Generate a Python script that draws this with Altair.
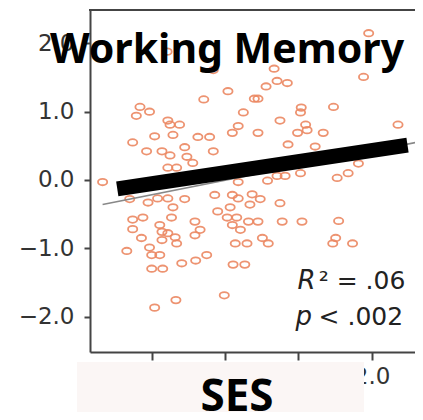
import altair as alt
import pandas as pd

# ---- data ----
ses = [1.96, -0.79, -0.16, 0.67, 1.89, 0.71, 0.85, 0.56, 0.04, -0.29,
       0.40, 0.45, -1.16, -1.21, -1.03, 1.04, 1.03, 1.48, 0.25, -0.78,
       -0.75, -0.62, 0.75, 1.10, 2.36, 0.18,
       0.10, 0.45, 0.99, 1.34, 1.12, -0.96, -0.71, -0.37, -0.21, -1.26,
       -1.07, -0.86, -0.75, -0.55, -0.52, -0.16, 0.86, 1.23, -0.44, -0.78,
       -0.66, 1.82, 1.68, 1.53, 1.03, 0.71, 0.82,
       0.58, 0.18, -1.67, 2.67,
       -1.30, -1.05, -0.92, -0.78, -0.55, -0.14, 0.10, 0.18, 0.37, 0.48,
       0.34, 0.75, -0.71, -0.10, 0.07, -0.73, -1.26, -1.12, -0.41, 0.03,
       0.16, 0.32, 0.45, 0.78, 1.05, 1.55, -0.89, -1.26, -0.34, 0.10,
       0.21, -0.86, -0.78, -0.41, -0.68, -1.14, -0.86, 0.51, 1.51, -0.66,
       0.14, 0.30, 0.59, 1.47, 1.74, -1.03, -1.34, -1.00, -0.89, -0.25,
       -0.40, -0.59, 0.11, 0.27, -1.00, -0.85, -0.67, -0.96, -0.01]
wm = [2.15, 1.88, 1.61, 1.63, 1.51, 1.45, 1.42, 1.37, 1.30, 1.18,
      1.19, 1.19, 1.07, 0.94, 1.00, 1.06, 0.99, 1.07, 0.99, 0.87,
      0.81, 0.81, 0.87, 0.81, 0.81, 0.79,
      0.69, 0.69, 0.69, 0.69, 0.73, 0.64, 0.66, 0.63, 0.63, 0.55,
      0.42, 0.42, 0.36, 0.48, 0.34, 0.42, 0.52, 0.49, 0.25, 0.18,
      0.18, 0.24, 0.10, 0.03, 0.10, 0.06, 0.06,
      -0.01, -0.03, -0.03, -0.22,
      -0.28, -0.33, -0.27, -0.27, -0.28, -0.22, -0.22, -0.27, -0.21, -0.28,
      -0.36, -0.34, -0.40, -0.46, -0.40, -0.55, -0.58, -0.55, -0.61, -0.55,
      -0.55, -0.61, -0.61, -0.61, -0.61, -0.60, -0.66, -0.72, -0.73, -0.66,
      -0.73, -0.76, -0.78, -0.81, -0.84, -0.85, -0.88, -0.85, -0.85, -0.93,
      -0.93, -0.93, -0.93, -0.93, -0.93, -0.99, -1.04, -1.10, -1.10, -1.10,
      -1.18, -1.22, -1.24, -1.24, -1.30, -1.30, -1.76, -1.87, -1.69]

fit_ses = [-1.67, 2.75]
fit_wm = [-0.36, 0.58]
bold_ses = [-1.47, 2.49]
bold_wm = [-0.13, 0.51]

x_ticks = [-1.0, 0.0, 1.0, 2.0]
y_ticks = [-2.0, -1.0, 0.0, 1.0, 2.0]

title_text = "Working Memory"
xlabel_text = "SES"

ital_text = ["R", "p"]
ital_x = [0.99, 0.96]
rest_text = ["\u00b2 = .06", "< .002"]
rest_x = [2.46, 2.43]
ann_y = [-1.60, -2.12]

# ---- tables ----
pts = pd.DataFrame({"SES": ses, "WM": wm})
fit = pd.DataFrame({"SES": fit_ses, "WM": fit_wm})
bold = pd.DataFrame({"SES": bold_ses, "WM": bold_wm})
ital = pd.DataFrame({"SES": ital_x, "WM": ann_y, "t": ital_text})
rest = pd.DataFrame({"SES": rest_x, "WM": ann_y, "t": rest_text})

W, H = 325, 342
xs = alt.Scale(domain=[-1.842, 2.592], nice=False, zero=False)
ys = alt.Scale(domain=[-2.52, 2.49], nice=False, zero=False)

x_enc = alt.X("SES:Q", scale=xs, axis=alt.Axis(
    values=x_ticks, format=".1f", title=None, grid=False,
    labelFont="DejaVu Sans", labelFontSize=23, labelColor="#333",
    labelPadding=5, tickSize=8, tickWidth=2, tickColor="#444",
    domainColor="#444", domainWidth=2, zindex=0))
y_enc = alt.Y("WM:Q", scale=ys, axis=alt.Axis(
    values=y_ticks, format=".1f", title=None, grid=False,
    labelFont="DejaVu Sans", labelFontSize=23, labelColor="#333",
    labelPadding=10, tickSize=6, tickWidth=2, tickColor="#444",
    domainColor="#444", domainWidth=2, zindex=0))

ellipse = "M -1 0 A 1 0.7 0 1 0 1 0 A 1 0.7 0 1 0 -1 0 Z"

points = alt.Chart(pts).mark_point(
    shape=ellipse, filled=False, size=85, strokeWidth=1.8,
    color="#ec8862", opacity=0.9
).encode(x=x_enc, y=y_enc)

fitline = alt.Chart(fit).mark_line(color="#888", strokeWidth=1.6).encode(
    x=alt.X("SES:Q", scale=xs), y=alt.Y("WM:Q", scale=ys))

boldline = alt.Chart(bold).mark_line(color="#000", strokeWidth=15, strokeCap="butt").encode(
    x=alt.X("SES:Q", scale=xs), y=alt.Y("WM:Q", scale=ys))

ital_layer = alt.Chart(ital).mark_text(
    font="DejaVu Sans", fontStyle="italic", fontSize=26, align="left",
    baseline="alphabetic", color="#222"
).encode(x=alt.X("SES:Q", scale=xs), y=alt.Y("WM:Q", scale=ys), text="t:N")

rest_layer = alt.Chart(rest).mark_text(
    font="DejaVu Sans", fontSize=25, align="right",
    baseline="alphabetic", color="#222"
).encode(x=alt.X("SES:Q", scale=xs), y=alt.Y("WM:Q", scale=ys), text="t:N")

top_spine = alt.Chart(pd.DataFrame({"k": [0]})).mark_rule(color="#444", strokeWidth=2).encode(
    x=alt.value(-1), x2=alt.value(W + 10), y=alt.value(0))

box = alt.Chart(pd.DataFrame({"k": [0]})).mark_rect(color="#fbf6f5").encode(
    x=alt.value(-13), x2=alt.value(274), y=alt.value(352), y2=alt.value(420))

xlabel = alt.Chart(pd.DataFrame({"t": [xlabel_text]})).mark_text(
    font="Noto Sans", fontWeight="bold", fontSize=44, align="center",
    baseline="alphabetic", color="#000"
).encode(x=alt.value(147), y=alt.value(401), text="t:N")

title = alt.Chart(pd.DataFrame({"t": [title_text]})).mark_text(
    font="Noto Sans", fontWeight="bold", fontSize=41, align="center",
    baseline="alphabetic", color="#000"
).encode(x=alt.value(137), y=alt.value(53), text="t:N")

chart = alt.layer(
    points, fitline, boldline, ital_layer, rest_layer, top_spine, box, xlabel, title
).properties(
    width=W, height=H,
    autosize=alt.AutoSizeParams(type="none"),
    padding={"left": 82, "top": 2, "right": 0, "bottom": 60},
    background="white",
).configure_view(stroke=None)

chart.save("out.html", embed_options={"renderer": "svg", "actions": False})
